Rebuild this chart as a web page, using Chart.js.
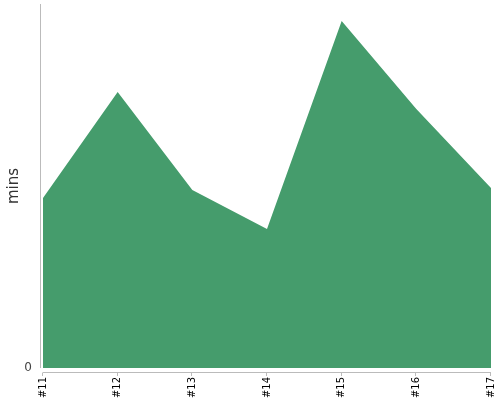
<!DOCTYPE html>
<html>
<head>
<meta charset="utf-8">
<script src="https://cdn.jsdelivr.net/npm/chart.js@4/dist/chart.umd.min.js"></script>
<style>
  html, body { margin: 0; padding: 0; background: #fff; }
  #wrap { width: 500px; height: 400px; }
</style>
</head>
<body>
<div id="wrap"><canvas id="chart"></canvas></div>
<script>
const labels = ["#11", "#12", "#13", "#14", "#15", "#16", "#17"];
const mins = [170, 276, 178, 139, 347, 259, 180];
const y_max = 364;

// axis lines drawn slightly apart from the plot, like the original
const axisLines = {
    id: 'axisLines',
    afterDraw(chart) {
        const ctx = chart.ctx;
        const a = chart.chartArea;
        const x = chart.scales.x;
        ctx.save();
        ctx.strokeStyle = '#bbbbbb';
        ctx.lineWidth = 1;
        ctx.beginPath();
        ctx.moveTo(a.left - 2.5, a.top);
        ctx.lineTo(a.left - 2.5, a.bottom);
        ctx.moveTo(a.left, a.bottom + 4.5);
        ctx.lineTo(a.right, a.bottom + 4.5);
        x.ticks.forEach((t, i) => {
            const px = Math.round(x.getPixelForTick(i)) - 0.5;
            ctx.moveTo(px, a.bottom + 4.5);
            ctx.lineTo(px, a.bottom + 8);
        });
        ctx.stroke();
        ctx.restore();
    }
};

new Chart(document.getElementById('chart'), {
    type: 'line',
    data: {
        labels: labels,
        datasets: [{
            data: mins,
            backgroundColor: '#459c6c',
            borderWidth: 0,
            pointRadius: 0,
            tension: 0,
            fill: 'origin'
        }]
    },
    options: {
        responsive: true,
        maintainAspectRatio: false,
        animation: false,
        layout: { padding: { top: 4, right: 9, left: 0, bottom: 0 } },
        plugins: {
            legend: { display: false },
            tooltip: { enabled: false }
        },
        scales: {
            x: {
                grid: { display: false },
                border: { display: false },
                afterFit(scale) {
                    scale.height = 32;
                    scale.paddingLeft = 0;
                    scale.paddingRight = 0;
                },
                ticks: {
                    autoSkip: false,
                    minRotation: 90,
                    maxRotation: 90,
                    padding: 1,
                    color: '#000',
                    font: { family: 'DejaVu Sans', size: 10 }
                }
            },
            y: {
                min: 0,
                max: y_max,
                grid: { display: false },
                border: { display: false },
                afterFit(scale) {
                    scale.width = 43;
                    scale.paddingTop = 0;
                    scale.paddingBottom = 0;
                },
                afterBuildTicks(scale) { scale.ticks = [{ value: 0 }]; },
                ticks: {
                    color: '#444',
                    font: { family: 'DejaVu Sans', size: 12 }
                },
                title: {
                    display: true,
                    text: 'mins',
                    color: '#333',
                    padding: { top: 5, bottom: 0 },
                    font: { family: 'DejaVu Sans', size: 15 }
                }
            }
        }
    },
    plugins: [axisLines]
});
</script>
</body>
</html>
